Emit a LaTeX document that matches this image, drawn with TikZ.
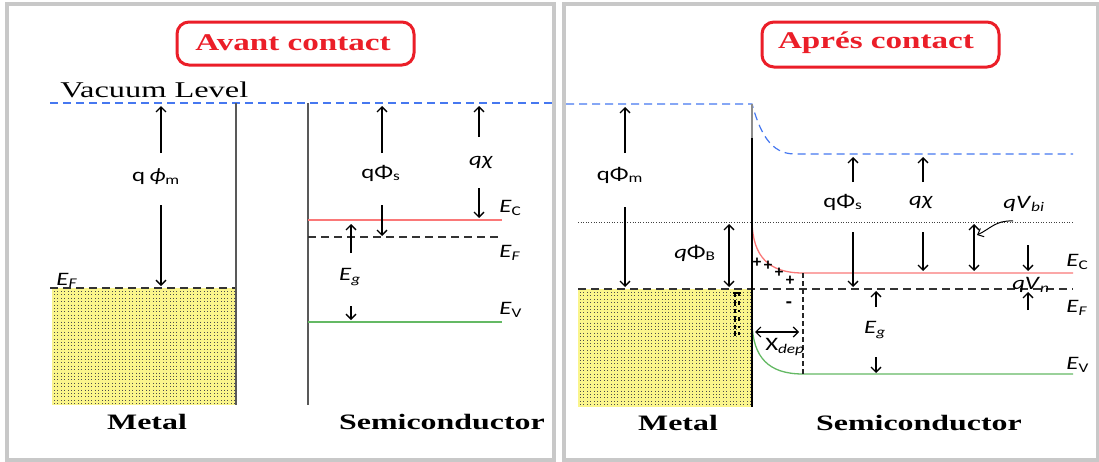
\documentclass[tikz,border=0pt]{standalone}
\usepackage{fontspec}
\setmainfont{Liberation Serif}
\newfontfamily\lab{Carlito}
\usetikzlibrary{arrows.meta}
\definecolor{frame}{RGB}{200,200,200}
\definecolor{boxred}{RGB}{235,30,40}
\definecolor{vac}{RGB}{70,120,240}
\definecolor{ecred}{RGB}{250,120,120}
\definecolor{evgreen}{RGB}{100,185,100}
\definecolor{metal}{RGB}{250,245,140}
\tikzset{
  ar/.style={line width=1.3pt,-{Straight Barb[length=5pt,width=10pt]}},
  dar/.style={line width=1.3pt,{Straight Barb[length=5pt,width=10pt]}-{Straight Barb[length=5pt,width=10pt]}},
  lbl/.style={font=\lab\fontsize{19}{19}\selectfont,inner sep=0pt,xscale=1.3},
  ttl/.style={font=\bfseries\fontsize{24}{24}\selectfont,text=boxred,inner sep=0pt,xscale=1.38},
  tbox/.style={draw=boxred,line width=3pt,rounded corners=12pt},
  sername/.style={font=\bfseries\fontsize{22}{22}\selectfont,inner sep=0pt,xscale=1.45},
  vacline/.style={draw=vac,line width=1.2pt,dash pattern=on 8pt off 5pt},
  efline/.style={draw=black!80,line width=1.3pt,dash pattern=on 8pt off 5pt},
  wall/.style={draw=black!65,line width=1.5pt},
  metalfill/.style={fill=metal},
  dotcol/.style={draw=black!70,line width=1pt,dash pattern=on 1pt off 2.4pt},
  chg/.style={font=\lab\bfseries\fontsize{17}{17}\selectfont,inner sep=0pt},
  negmark/.style={draw=black,line width=1.1pt}
}
\begin{document}
\begin{tikzpicture}[x=1pt,y=-1pt]
\useasboundingbox (0,0) rectangle (1099,461);
\fill[white] (0,0) rectangle (1099,461);
% panel frames
\draw[frame,line width=4pt] (7,4) rectangle (554,459.5);
\draw[frame,line width=4pt] (563.5,4) rectangle (1097.5,459.5);

% ================= LEFT PANEL =================
\draw[tbox] (177,22) rectangle (414,65);
\node[ttl] (t1) at (293,43) {Avant contact};
\node[font=\fontsize{22.5}{22.5}\selectfont,inner sep=0pt,xscale=1.44,anchor=base west] (vl) at (60,97) {Vacuum Level};

% metal block
\path[metalfill] (52,288) rectangle (236,405);
\foreach \x in {54.5,57.9,...,235} {\draw[dotcol] (\x,291) -- (\x,405);}
\draw[efline] (50,288) -- (236,288);
\node[lbl,anchor=base west] (efm) at (56,285) {\textit{E}\textsubscript{\textit{F}}};

% vacuum line
\draw[vacline] (50,103) -- (552,103);
% walls
\draw[wall] (236,103) -- (236,405);
\draw[wall] (308,103) -- (308,405);

% semiconductor bands
\draw[ecred,line width=1.3pt] (308,220) -- (502,220);
\draw[efline] (308,237) -- (502,237);
\draw[evgreen,line width=1.3pt] (308,322) -- (502,322);
\node[lbl,anchor=west] (ec1) at (499,208) {\textit{E}\textsubscript{C}};
\node[lbl,anchor=west] (ef1) at (499,253) {\textit{E}\textsubscript{\textit{F}}};
\node[lbl,anchor=west] (ev1) at (499,310) {\textit{E}\textsubscript{V}};

% q phi_m
\node[lbl] (qpm) at (156,177) {q\,\textit{ϕ}\textsubscript{m}};
\draw[ar] (161,153) -- (161,106);
\draw[ar] (161,205) -- (161,286);
% q Phi_s
\node[lbl] (qps) at (381,173) {qΦ\textsubscript{s}};
\draw[ar] (382,153) -- (382,106);
\draw[ar] (382,205) -- (382,236);
% q chi
\node[lbl] (qchi) at (481,162) {\textit{qχ}};
\draw[ar] (479,137) -- (479,106);
\draw[ar] (479,188) -- (479,218);
% Eg
\node[lbl] (eg1) at (350,277) {\textit{E}\textsubscript{\textit{g}}};
\draw[ar] (351,253) -- (351,224);
\draw[ar] (351,306) -- (351,320);

\node[sername] (m1) at (147,422) {Metal};
\node[sername] (s1) at (442,422) {Semiconductor};

% ================= RIGHT PANEL =================
\draw[tbox] (762,22) rectangle (999,67);
\node[ttl] (t2) at (876,43) {Aprés contact};

% metal block
\path[metalfill] (578,289) rectangle (752,407);
\foreach \x in {580.5,583.9,...,751} {\draw[dotcol] (\x,292) -- (\x,407);}

% vacuum level with bending
\draw[vacline] (566,104) -- (752,104) .. controls (760,132) and (770,154) .. (795,154) -- (1073,154);

% dotted reference line
\draw[black!75,line width=1pt,dash pattern=on 1pt off 1.6pt] (578,222) -- (1073,222);

% Fermi level
\draw[efline] (578,289) -- (1073,289);

% conduction band
\draw[ecred,line width=1.3pt] (752,222) .. controls (753,256) and (768,273) .. (803,273) -- (1073,273);
% valence band
\draw[evgreen,line width=1.3pt] (752,323) .. controls (753,357) and (768,374) .. (803,374) -- (1073,374);
% depletion edge
\draw[black!85,line width=1.3pt,dash pattern=on 5pt off 3pt] (803,273) -- (803,374);

% contact wall
\draw[black!45,line width=2pt] (752,104) -- (752,138);
\draw[black,line width=2pt] (752,138) -- (752,407);

% charges
\node[chg] (p1) at (757,263) {+};
\node[chg] (p2) at (768,266) {+};
\node[chg] (p3) at (779,273) {+};
\node[chg] (p4) at (790,281) {+};
\node[chg,font=\lab\bfseries\fontsize{20}{20}\selectfont] (mn) at (789,305) {-};
% negative charges in the metal
\foreach \ya/\yb in {293/297,300/306,309/313,316/322,325/329,331/336}
  {\draw[negmark] (735,\ya) -- (735,\yb); \draw[negmark] (739,\ya+1) -- (739,\yb-1);}
\draw[negmark] (733,293) -- (741,293);

% X_dep
\draw[dar,line width=1.2pt] (755,332) -- (799,332);
\node[lbl] (xdep) at (785,347) {X\textsubscript{\textit{dep}}};

% q Phi_m
\node[lbl] (qpm2) at (620,175) {qΦ\textsubscript{m}};
\draw[ar] (625,153) -- (625,107);
\draw[ar] (625,207) -- (625,287);
% q Phi_B
\node[lbl] (qpb) at (695,253) {\textit{q}Φ\textsubscript{B}};
\draw[dar] (729,224) -- (729,287);
% q Phi_s
\node[lbl] (qps2) at (843,202) {qΦ\textsubscript{s}};
\draw[ar] (853,182) -- (853,157);
\draw[ar] (853,232) -- (853,287);
% q chi
\node[lbl] (qchi2) at (921,202) {\textit{qχ}};
\draw[ar] (923,182) -- (923,157);
\draw[ar] (923,232) -- (923,271);
% q V_bi
\node[lbl] (qvbi) at (1024,204) {\textit{qV}\textsubscript{\textit{bi}}};
\draw[dar] (974,224) -- (974,271);
\draw[line width=1pt,-{Straight Barb[length=5pt,width=9pt]}] (1013,221) .. controls (996,220) and (990,229) .. (977,235);
% q V_n
\draw[ar] (1028,245) -- (1028,271);
\draw[ar] (1028,310) -- (1028,292);
\node[lbl] (qvn) at (1031,285) {\textit{qV}\textsubscript{\textit{n}}};
% Eg
\node[lbl] (eg2) at (875,330) {\textit{E}\textsubscript{\textit{g}}};
\draw[ar] (876,307) -- (876,291);
\draw[ar] (876,357) -- (876,373);

\node[lbl,anchor=west] (ec2) at (1066,262) {\textit{E}\textsubscript{C}};
\node[lbl,anchor=west] (ef2) at (1066,308) {\textit{E}\textsubscript{\textit{F}}};
\node[lbl,anchor=west] (ev2) at (1066,365) {\textit{E}\textsubscript{V}};

\node[sername] (m2) at (678,423) {Metal};
\node[sername] (s2) at (919,423) {Semiconductor};
\end{tikzpicture}
\end{document}
